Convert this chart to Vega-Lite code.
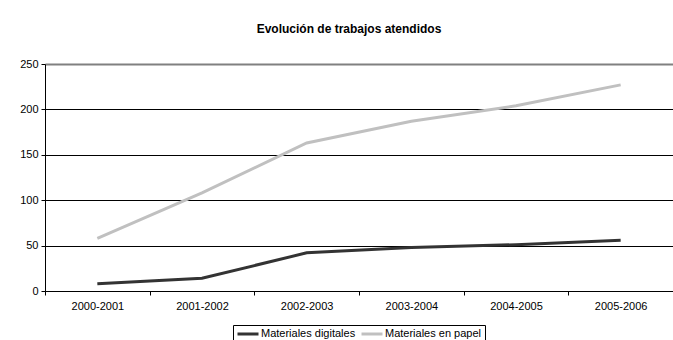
{
  "$schema": "https://vega.github.io/schema/vega-lite/v6.json",
  "autosize": {"type": "none"},
  "width": 628,
  "height": 227,
  "padding": {"left": 45, "top": 64, "right": 0, "bottom": 49},
  "background": "white",
  "title": {
    "text": "Evolución de trabajos atendidos",
    "font": "Liberation Sans",
    "fontSize": 12,
    "fontWeight": "bold",
    "color": "black",
    "anchor": "middle",
    "dx": -10,
    "offset": 22
  },
  "data": {
    "values": [
      {"periodo": "2000-2001", "serie": "Materiales digitales", "valor": 8},
      {"periodo": "2001-2002", "serie": "Materiales digitales", "valor": 14},
      {"periodo": "2002-2003", "serie": "Materiales digitales", "valor": 42},
      {"periodo": "2003-2004", "serie": "Materiales digitales", "valor": 48},
      {"periodo": "2004-2005", "serie": "Materiales digitales", "valor": 51},
      {"periodo": "2005-2006", "serie": "Materiales digitales", "valor": 56},
      {"periodo": "2000-2001", "serie": "Materiales en papel", "valor": 58},
      {"periodo": "2001-2002", "serie": "Materiales en papel", "valor": 108},
      {"periodo": "2002-2003", "serie": "Materiales en papel", "valor": 163},
      {"periodo": "2003-2004", "serie": "Materiales en papel", "valor": 187},
      {"periodo": "2004-2005", "serie": "Materiales en papel", "valor": 204},
      {"periodo": "2005-2006", "serie": "Materiales en papel", "valor": 227}
    ]
  },
  "mark": {"type": "line", "strokeWidth": 3, "strokeCap": "butt"},
  "encoding": {
    "x": {
      "field": "periodo",
      "type": "nominal",
      "sort": null,
      "title": null,
      "scale": {"type": "band", "paddingInner": 0, "paddingOuter": 0},
      "axis": {
        "labelAngle": 0,
        "tickBand": "extent",
        "tickSize": 4,
        "labelPadding": 5,
        "domainColor": "black",
        "tickColor": "black",
        "grid": false
      }
    },
    "y": {
      "field": "valor",
      "type": "quantitative",
      "title": null,
      "scale": {"domain": [0, 250], "nice": false},
      "axis": {
        "values": [0, 50, 100, 150, 200, 250],
        "tickSize": 4,
        "labelPadding": 3,
        "domainColor": "black",
        "tickColor": "black",
        "grid": true,
        "gridColor": {"condition": {"test": "datum.value === 250", "value": "#808080"}, "value": "black"},
        "gridWidth": {"condition": {"test": "datum.value === 250", "value": 2}, "value": 1},
        "gridOpacity": 1
      }
    },
    "color": {
      "field": "serie",
      "type": "nominal",
      "scale": {
        "domain": ["Materiales digitales", "Materiales en papel"],
        "range": ["#333333", "#c0c0c0"]
      },
      "legend": {
        "title": null,
        "orient": "none",
        "direction": "horizontal",
        "legendX": 188,
        "legendY": 261,
        "symbolType": "stroke",
        "symbolStrokeWidth": 3,
        "symbolSize": 441,
        "clipHeight": 12,
        "labelFontSize": 11,
        "labelColor": "black",
        "labelFont": "Liberation Sans",
        "labelOffset": 1,
        "columnPadding": 4,
        "strokeColor": "black",
        "padding": 3,
        "offset": 0
      }
    }
  },
  "config": {
    "view": {"stroke": null},
    "axis": {
      "labelFont": "Liberation Sans",
      "labelFontSize": 11,
      "labelColor": "black",
      "domainWidth": 1,
      "tickWidth": 1
    }
  }
}
